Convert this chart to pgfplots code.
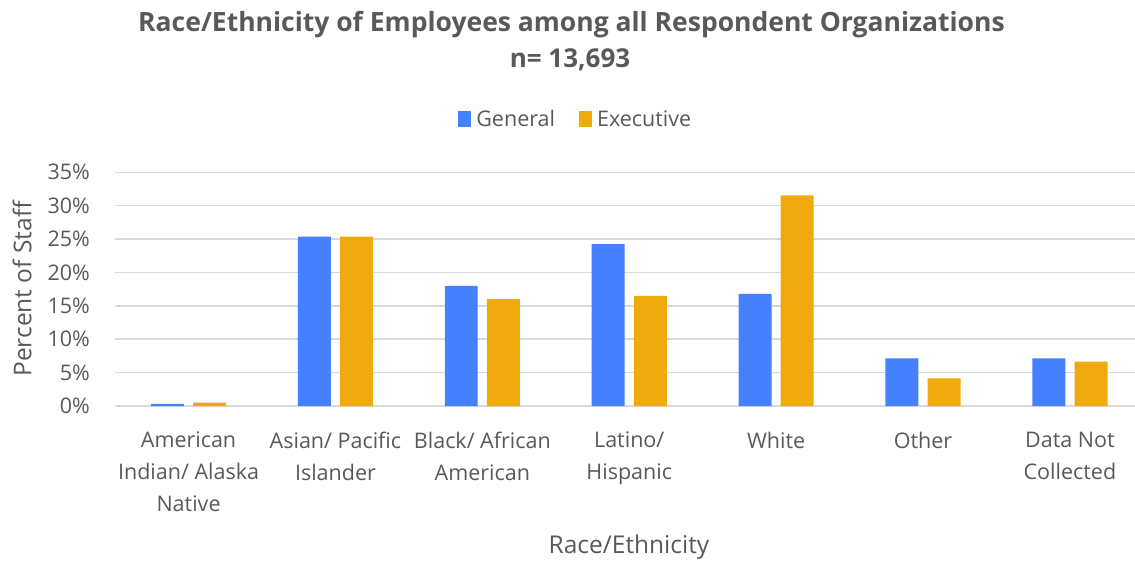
\documentclass[border=0pt]{standalone}
\usepackage{fontspec}
\setmainfont{Open Sans}
\usepackage{pgfplots}
\pgfplotsset{compat=1.18}
\definecolor{genblue}{RGB}{69,128,255}
\definecolor{exeorange}{RGB}{239,170,14}
\definecolor{txtgray}{RGB}{89,89,89}
\definecolor{gridgray}{RGB}{217,217,217}
\begin{document}
\begin{tikzpicture}[x=1pt,y=1pt]
\begin{axis}[
  at={(115.1pt,157pt)}, anchor=south west,
  scale only axis, width=1028.3pt, height=233.7pt,
  xmin=-0.5, xmax=6.5, ymin=0, ymax=35,
  axis line style={draw=none},
  major tick length=0pt,
  ytick={0,5,...,35},
  yticklabels={0\%,5\%,10\%,15\%,20\%,25\%,30\%,35\%},
  ymajorgrids, grid style={gridgray, line width=1.5pt},
  xtick={0,...,6},
  xticklabels={{American\\Indian/ Alaska\\Native},{Asian/ Pacific\\Islander},{Black/ African\\American},{Latino/\\Hispanic},{White},{Other},{Data Not\\Collected}},
  xticklabel style={align=center, font=\fontsize{21.5}{32}\selectfont, text=txtgray, anchor=north, inner sep=0pt, yshift=-26pt},
  yticklabel style={font=\fontsize{21.5}{24}\selectfont, text=txtgray, anchor=east, inner sep=0pt, xshift=-25pt},
  legend style={at={(0.448,1.228)}, anchor=center, draw=none, fill=none, legend columns=2,
    font=\fontsize{21.5}{24}\selectfont, text=txtgray,
    /tikz/every odd column/.append style={column sep=3pt},
    /tikz/every even column/.append style={column sep=22pt}},
  legend image code/.code={\fill[#1] (0pt,-8pt) rectangle (13pt,8pt);},
]
\addplot[ybar, bar width=0.2246, bar shift=-0.1436, fill=genblue, draw=none]
  coordinates {(0,0.3) (1,25.35) (2,18.0) (3,24.25) (4,16.8) (5,7.15) (6,7.15)};
\addlegendentry{General}
\addplot[ybar, bar width=0.2246, bar shift=0.1436, fill=exeorange, draw=none]
  coordinates {(0,0.5) (1,25.35) (2,16.0) (3,16.5) (4,31.55) (5,4.15) (6,6.65)};
\addlegendentry{Executive}
\end{axis}
\node[rotate=90, text=txtgray, font=\fontsize{24.5}{28}\selectfont] at (22pt,274pt) {Percent of Staff};
\node[text=txtgray, font=\fontsize{24.5}{28}\selectfont] at (629pt,16pt) {Race/Ethnicity};
\node[text=txtgray, font=\bfseries\fontsize{26.5}{30}\selectfont] at (571.5pt,538pt) {Race/Ethnicity of Employees among all Respondent Organizations};
\node[text=txtgray, font=\bfseries\fontsize{26}{30}\selectfont] at (570pt,503pt) {n= 13,693};
\pgfresetboundingbox
\useasboundingbox (0,0) rectangle (1135pt,563pt);
\end{tikzpicture}
\end{document}
